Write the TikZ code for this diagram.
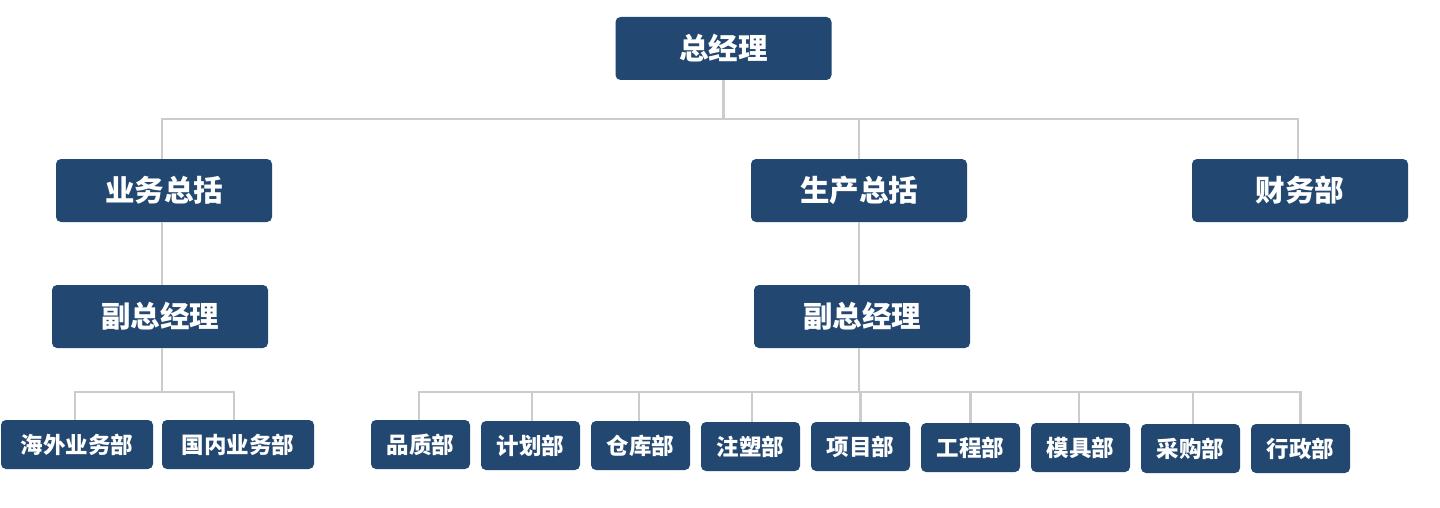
\documentclass[tikz,border=0pt]{standalone}
\usepackage{fontspec}
\newfontfamily\cjk{Noto Sans CJK SC}
\definecolor{boxblue}{RGB}{34,71,112}
\definecolor{linegray}{RGB}{204,204,204}
\tikzset{
  box/.style={fill=boxblue, text=white, rounded corners=5pt, inner sep=0pt, anchor=center},
  bigbox/.style={box, minimum width=216pt, minimum height=63pt, font=\cjk\bfseries\fontsize{29.5}{29.5}\selectfont},
  midbox/.style={box, minimum width=152pt, minimum height=49pt, font=\cjk\bfseries\fontsize{22.5}{22.5}\selectfont},
  smallbox/.style={box, minimum width=99pt, minimum height=49pt, font=\cjk\bfseries\fontsize{22.5}{22.5}\selectfont},
  conn/.style={draw=linegray, line width=2.8pt}
}
\begin{document}
\begin{tikzpicture}[x=1pt,y=-1pt]
\useasboundingbox (0,0) rectangle (1440,508);
% nodes
\node[bigbox] (top) at (723.5,48.5) {总经理};
\node[bigbox] (yw) at (164,190.5) {业务总括};
\node[bigbox] (sc) at (859,190.5) {生产总括};
\node[bigbox] (cw) at (1300,190.5) {财务部};
\node[bigbox] (fz1) at (160,316.5) {副总经理};
\node[bigbox] (fz2) at (862,316.5) {副总经理};
\node[midbox] (hw) at (77,444.5) {海外业务部};
\node[midbox] (gn) at (238,444.5) {国内业务部};
\node[smallbox] (pz) at (420.5,444.5) {品质部};
\node[smallbox] (jh) at (530.5,445.5) {计划部};
\node[smallbox] (ck) at (640.5,445.5) {仓库部};
\node[smallbox] (zs) at (750.5,446.5) {注塑部};
\node[smallbox] (xm) at (860.5,446.5) {项目部};
\node[smallbox] (gc) at (970.5,447.5) {工程部};
\node[smallbox] (mj) at (1080.5,447.5) {模具部};
\node[smallbox] (cg) at (1190.5,448.5) {采购部};
\node[smallbox] (xz) at (1300.5,448.5) {行政部};
% bus coordinates
\coordinate (bA) at (0,119);
\coordinate (bB) at (0,392);
% connectors
\draw[conn] (top.south) -- (top.south |- bA);
\draw[conn] ([xshift=-2pt]yw.north) -- ([xshift=-2pt]yw.north |- bA) -- ([xshift=-2pt]cw.north |- bA) -- ([xshift=-2pt]cw.north);
\draw[conn] (sc.north) -- (sc.north |- bA);
\draw[conn] ([xshift=-2pt]yw.south) -- ([xshift=2pt]fz1.north);
\draw[conn] (sc.south) -- ([xshift=-3pt]fz2.north);
\draw[conn] ([xshift=2pt]fz1.south) -- ([xshift=2pt]fz1.south |- bB);
\draw[conn] ([xshift=-2pt]hw.north) -- ([xshift=-2pt]hw.north |- bB) -- ([xshift=-4pt]gn.north |- bB) -- ([xshift=-4pt]gn.north);
\draw[conn] ([xshift=-3pt]fz2.south) -- ([xshift=-3pt]fz2.south |- bB);
\draw[conn] ([xshift=-1.5pt]pz.north) -- ([xshift=-1.5pt]pz.north |- bB) -- (xz.north |- bB) -- (xz.north);
\draw[conn] ([xshift=1.5pt]jh.north) -- ([xshift=1.5pt]jh.north |- bB);
\draw[conn] ([xshift=-1.5pt]ck.north) -- ([xshift=-1.5pt]ck.north |- bB);
\draw[conn] ([xshift=1.5pt]zs.north) -- ([xshift=1.5pt]zs.north |- bB);
\draw[conn] (xm.north) -- (xm.north |- bB);
\draw[conn] (gc.north) -- (gc.north |- bB);
\draw[conn] ([xshift=-1.5pt]mj.north) -- ([xshift=-1.5pt]mj.north |- bB);
\draw[conn] ([xshift=2.5pt]cg.north) -- ([xshift=2.5pt]cg.north |- bB);
\end{tikzpicture}
\end{document}
